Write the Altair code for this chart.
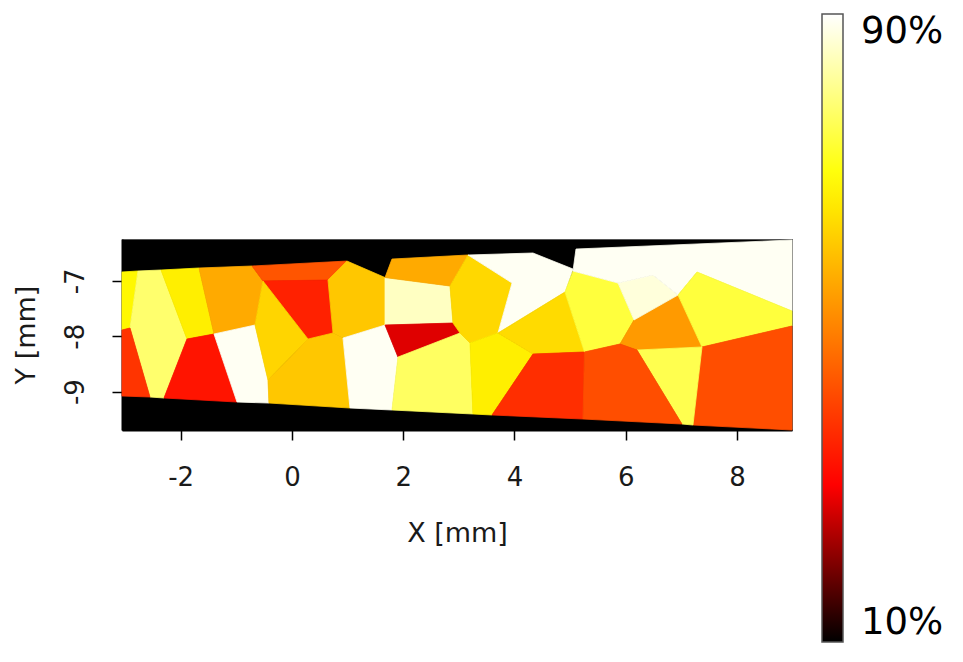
import altair as alt
import pandas as pd

# ---- data: Voronoi-like grain cells (vertices in mm) and their value in % ----
CELL_NAMES = ["a", "b", "c", "d", "e", "f", "g", "h", "i", "j", "k", "m", "l", "n", "p", "o",
              "q", "j2", "r", "u", "s", "cc", "t", "v", "w", "X", "y", "z", "aa", "bb"]

CELL_VALUES = [68, 78, 38, 66.5, 33, 56, 89, 43, 35, 62.5, 60.5, 60.5, 89, 85, 56, 27.5,
               77, 63, 89, 66.5, 63.5, 37, 74, 53.5, 87, 89, 74, 42, 75.5, 42]

CELL_X = [
    [-3.054, -2.767, -2.910, -3.054],
    [-2.767, -2.353, -1.886, -2.299, -2.551, -2.910],
    [-3.054, -2.910, -2.551, -3.054],
    [-2.353, -1.670, -1.400, -1.886],
    [-1.886, -1.400, -0.987, -2.299],
    [-1.670, -0.717, -0.520, -0.663, -1.400],
    [-1.400, -0.663, -0.430, -0.412, -0.987],
    [-0.717, 0.990, 0.649, -0.520],
    [-0.520, 0.649, 0.739, 0.289],
    [-0.520, 0.289, -0.430, -0.663],
    [0.289, 0.739, 0.919, 1.044, -0.412, -0.430],
    [0.649, 0.990, 1.674, 1.674, 0.919, 0.739],
    [0.919, 1.674, 1.907, 1.799, 1.044],
    [1.674, 2.842, 2.896, 1.674],
    [1.674, 1.799, 3.166, 2.842],
    [1.674, 2.896, 3.022, 1.907],
    [1.907, 3.022, 3.202, 3.255, 1.799],
    [2.842, 3.166, 3.957, 3.705, 3.202, 3.022, 2.896],
    [3.166, 4.334, 5.053, 4.909, 3.705, 3.957],
    [3.202, 3.705, 4.334, 3.597, 3.255],
    [3.705, 4.909, 5.260, 4.334],
    [4.334, 5.260, 5.233, 3.597],
    [5.053, 5.862, 6.150, 5.898, 5.260, 4.909],
    [5.898, 6.150, 6.941, 7.372, 6.204],
    [5.862, 6.491, 6.941, 6.150],
    [5.107, 8.990, 8.990, 7.282, 6.941, 6.491, 5.862, 5.053],
    [7.282, 8.990, 8.990, 7.372, 6.941],
    [7.372, 8.990, 8.990, 7.210],
    [6.204, 7.372, 7.210, 7.012],
    [5.260, 5.898, 6.204, 7.012, 5.233],
]

CELL_Y = [
    [-6.840, -6.822, -7.852, -7.888],
    [-6.822, -6.804, -8.051, -9.116, -9.098, -7.852],
    [-7.888, -7.852, -9.098, -9.080],
    [-6.804, -6.768, -7.960, -8.051],
    [-8.051, -7.960, -9.189, -9.116],
    [-6.768, -6.732, -7.003, -7.798, -7.960],
    [-7.960, -7.798, -8.791, -9.207, -9.189],
    [-6.732, -6.642, -6.985, -7.003],
    [-7.003, -6.985, -7.942, -8.051],
    [-7.003, -8.051, -8.791, -7.798],
    [-8.051, -7.942, -8.033, -9.297, -9.207, -8.791],
    [-6.985, -6.642, -6.940, -7.798, -8.033, -7.942],
    [-8.033, -7.798, -8.376, -9.333, -9.297],
    [-6.940, -7.093, -7.762, -7.798],
    [-6.940, -6.606, -6.533, -7.093],
    [-7.798, -7.762, -7.942, -8.376],
    [-8.376, -7.942, -8.123, -9.405, -9.333],
    [-7.093, -6.533, -7.039, -7.942, -8.123, -7.942, -7.762],
    [-6.533, -6.497, -6.786, -7.202, -7.942, -7.039],
    [-8.123, -7.942, -8.322, -9.423, -9.405],
    [-7.942, -7.202, -8.285, -8.322],
    [-8.322, -8.285, -9.496, -9.423],
    [-6.822, -7.039, -7.707, -8.141, -8.285, -7.202],
    [-8.141, -7.707, -7.256, -8.195, -8.249],
    [-7.039, -6.895, -7.256, -7.707],
    [-6.425, -6.262, -7.545, -6.840, -7.256, -6.895, -7.039, -6.822],
    [-6.840, -7.545, -7.816, -8.195, -7.256],
    [-8.195, -7.816, -9.694, -9.604],
    [-8.249, -8.195, -9.604, -9.586],
    [-8.285, -8.141, -8.249, -9.586, -9.496],
]

X_DOMAIN = [-3.054, 8.99]
Y_DOMAIN = [-9.694, -6.244]
X_TICKS = [-2, 0, 2, 4, 6, 8]
Y_TICKS = [-9, -8, -7]
COLOR_STOPS = [10, 30, 69, 90]
STROKE_STOPS = [9.999, 30, 69, 90.001]   # same colours, distinct domain so no legend merge
COLOR_RANGE = ["#000000", "#ff0000", "#ffff00", "#ffffff"]
LEGEND_VALUES = [10, 90]

rows = []
for name, val, xs, ys in zip(CELL_NAMES, CELL_VALUES, CELL_X, CELL_Y):
    for k, (xv, yv) in enumerate(zip(xs, ys)):
        rows.append({"cell": name, "value": val, "x": xv, "y": yv, "k": k})
df = pd.DataFrame(rows)

FONT = "DejaVu Sans"
color_scale = alt.Scale(domain=COLOR_STOPS, range=COLOR_RANGE, interpolate="rgb")
stroke_scale = alt.Scale(domain=STROKE_STOPS, range=COLOR_RANGE, interpolate="rgb")

chart = alt.Chart(df).mark_line(
    filled=True, interpolate="linear-closed", strokeWidth=0.8
).encode(
    x=alt.X("x:Q",
            scale=alt.Scale(domain=X_DOMAIN, nice=False, zero=False),
            axis=alt.Axis(title="X [mm]", values=X_TICKS, grid=False,
                          labelExpr="datum.value + ''",
                          tickSize=10, tickWidth=1.5, tickColor="black",
                          domainColor="black", domainWidth=2,
                          labelFont=FONT, labelFontSize=26, labelColor="#1a1a1a",
                          labelPadding=24, titleFont=FONT, titleFontSize=27,
                          titleFontWeight="normal", titleColor="#1a1a1a",
                          titlePadding=30)),
    y=alt.Y("y:Q",
            scale=alt.Scale(domain=Y_DOMAIN, nice=False, zero=False),
            axis=alt.Axis(title="Y [mm]", values=Y_TICKS, grid=False,
                          labelExpr="datum.value + ''",
                          tickSize=10, tickWidth=1.5, tickColor="black",
                          domainColor="black", domainWidth=2,
                          labelAngle=270, labelAlign="center", labelBaseline="bottom",
                          labelFont=FONT, labelFontSize=26, labelColor="#1a1a1a",
                          labelPadding=24, titleFont=FONT, titleFontSize=27,
                          titleFontWeight="normal", titleColor="#1a1a1a",
                          titlePadding=22)),
    color=alt.Color("value:Q", scale=color_scale,
                    legend=alt.Legend(type="gradient", orient="none",
                                      legendX=700, legendY=-225,
                                      direction="vertical", title=None,
                                      gradientLength=628, gradientThickness=21,
                                      gradientStrokeColor="#555555", gradientStrokeWidth=1.5,
                                      values=LEGEND_VALUES,
                                      labelExpr="datum.value + '%'",
                                      labelFont=FONT, labelFontSize=37, labelColor="black",
                                      labelOffset=18, labelOverlap=False)),
    stroke=alt.Stroke("value:Q", scale=stroke_scale, legend=None),
    detail="cell:N",
    order="k:Q",
).properties(
    width=670, height=191,
    autosize=alt.AutoSizeParams(type="none"),
    padding={"left": 114, "top": 231, "right": 163, "bottom": 218},
).configure_view(fill="black", stroke="#555555", strokeWidth=1)

chart.save("out.html", embed_options={"renderer": "svg", "actions": False})
